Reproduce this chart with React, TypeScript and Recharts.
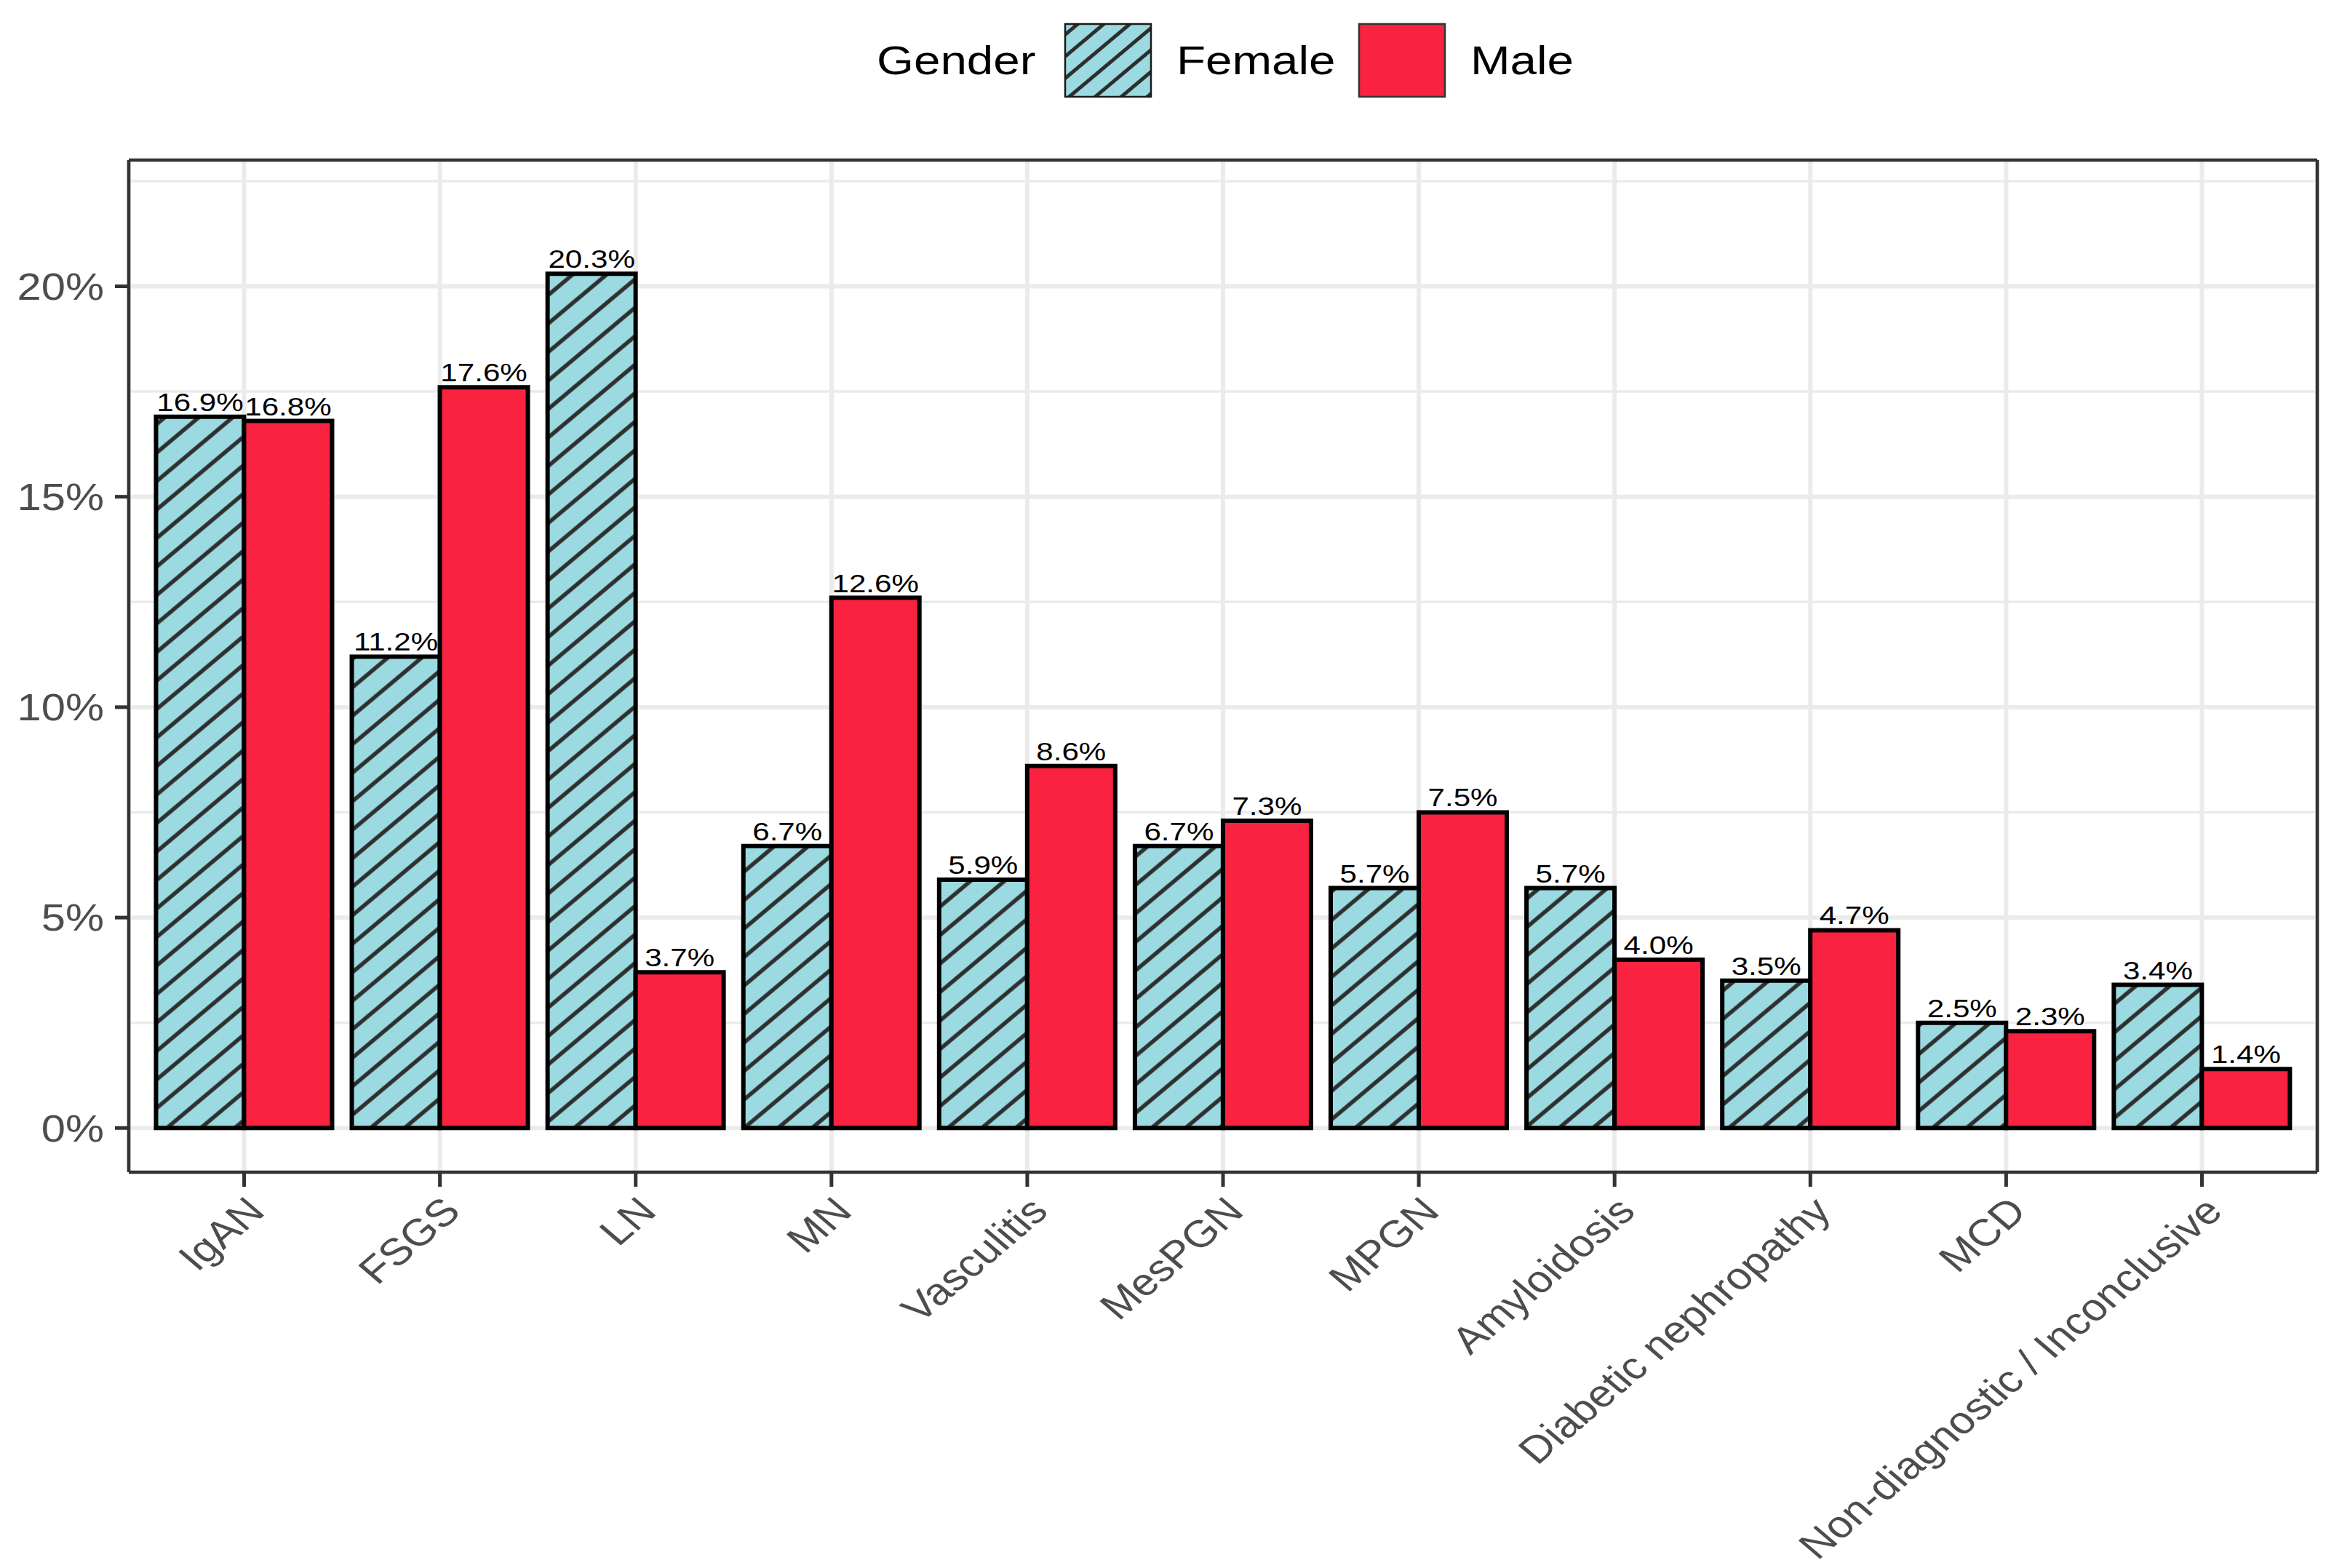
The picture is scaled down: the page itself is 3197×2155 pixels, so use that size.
import { BarChart, Bar, XAxis, YAxis, CartesianGrid, LabelList } from 'recharts';

const categories = [
  'IgAN',
  'FSGS',
  'LN',
  'MN',
  'Vasculitis',
  'MesPGN',
  'MPGN',
  'Amyloidosis',
  'Diabetic nephropathy',
  'MCD',
  'Non-diagnostic / Inconclusive',
];
const femaleShare = [16.9, 11.2, 20.3, 6.7, 5.9, 6.7, 5.7, 5.7, 3.5, 2.5, 3.4];
const maleShare = [16.8, 17.6, 3.7, 12.6, 8.6, 7.3, 7.5, 4.0, 4.7, 2.3, 1.4];
const yTicks = [0, 5, 10, 15, 20];
const yMinorTicks = [2.5, 7.5, 12.5, 17.5, 22.5];
const legendTitle = 'Gender';
const seriesNames = ['Female', 'Male'];

const data = categories.map((name, i) => ({ name, female: femaleShare[i], male: maleShare[i] }));

const FONT = '"Liberation Sans", Arial, Helvetica, sans-serif';
// the reference picture is a little wider than it is tall, text included
const STRETCH = 1.17;
const FEMALE_FILL = '#9BDAE0';
const MALE_FILL = '#F92240';
const HATCH = '#2E2E2E';
const AXIS = '#333333';
const GRID = '#EBEBEB';
const TEXT_GREY = '#4D4D4D';
const Y_DOMAIN: [number, number] = [-1.05, 23];

const fmt = (v: number) => `${v.toFixed(1)}%`;

const YTick = (props: any) => {
  const { x, y, payload } = props;
  return (
    <g transform={`translate(${x - 13},${y}) scale(${STRETCH},1)`}>
      <text x={0} y={0} dy="0.36em" textAnchor="end" fontFamily={FONT} fontSize={51} fill={TEXT_GREY}>
        {payload.value}%
      </text>
    </g>
  );
};

const XTick = (props: any) => {
  const { x, y, payload } = props;
  return (
    <g transform={`translate(${x},${y + 8}) scale(${STRETCH},1) rotate(-45)`}>
      <text x={0} y={0} dy="0.72em" textAnchor="end" fontFamily={FONT} fontSize={52} fill={TEXT_GREY}>
        {payload.value}
      </text>
    </g>
  );
};

const ValueLabel = (props: any) => {
  const { x, y, width, value } = props;
  if (value == null) return null;
  return (
    <g transform={`translate(${Number(x) + Number(width) / 2},${Number(y) - 8}) scale(${STRETCH},1)`}>
      <text x={0} y={0} textAnchor="middle" fontFamily={FONT} fontSize={36} fill="#000">
        {fmt(Number(value))}
      </text>
    </g>
  );
};

const Legend = () => (
  <svg width={3197} height={170} style={{ position: 'absolute', left: 0, top: 0 }}>
    <defs>
      <pattern id="hatchKey" patternUnits="userSpaceOnUse" width={23} height={23} patternTransform="rotate(-40)">
        <rect width={23} height={23} fill={FEMALE_FILL} />
        <rect y={9} width={23} height={5} fill={HATCH} />
      </pattern>
    </defs>
    <g transform={`translate(1205,102) scale(${STRETCH},1)`}>
      <text fontFamily={FONT} fontSize={56} fill="#000">{legendTitle}</text>
    </g>
    <rect x={1464} y={33} width={118} height={100} fill="url(#hatchKey)" stroke="#1a1a1a" strokeWidth={2.5} />
    <g transform={`translate(1617,102) scale(${STRETCH},1)`}>
      <text fontFamily={FONT} fontSize={56} fill="#000">{seriesNames[0]}</text>
    </g>
    <rect x={1868} y={33} width={118} height={100} fill={MALE_FILL} stroke="#333" strokeWidth={2.5} />
    <g transform={`translate(2021,102) scale(${STRETCH},1)`}>
      <text fontFamily={FONT} fontSize={56} fill="#000">{seriesNames[1]}</text>
    </g>
  </svg>
);

export default function App() {
  return (
    <div style={{ position: 'absolute', left: 0, top: 0, width: 3197, height: 2155, background: '#fff' }}>
      <Legend />
      <BarChart
        width={3197}
        height={2155}
        data={data}
        margin={{ top: 219, right: 11, bottom: 0, left: 0 }}
        barCategoryGap="5%"
        barGap={0}
      >
        <defs>
          <pattern id="hatchBar" patternUnits="userSpaceOnUse" width={30} height={30} patternTransform="rotate(-40)">
            <rect width={30} height={30} fill={FEMALE_FILL} />
            <rect y={12.25} width={30} height={5.5} fill={HATCH} />
          </pattern>
        </defs>
        <CartesianGrid vertical={false} horizontalValues={yMinorTicks} stroke={GRID} strokeWidth={3.5} />
        <CartesianGrid horizontalValues={yTicks} stroke={GRID} strokeWidth={6} />
        <XAxis
          dataKey="name"
          interval={0}
          height={544}
          padding={{ left: 24, right: 24 }}
          tick={<XTick />}
          tickSize={20}
          tickLine={{ stroke: AXIS, strokeWidth: 5 }}
          axisLine={{ stroke: AXIS, strokeWidth: 4.5 }}
        />
        <XAxis
          xAxisId="top"
          orientation="top"
          dataKey="name"
          height={1}
          tick={false}
          tickLine={false}
          axisLine={{ stroke: AXIS, strokeWidth: 4.5 }}
        />
        <YAxis
          domain={Y_DOMAIN}
          ticks={yTicks}
          allowDataOverflow
          width={177}
          tick={<YTick />}
          tickSize={19}
          tickLine={{ stroke: AXIS, strokeWidth: 5 }}
          axisLine={{ stroke: AXIS, strokeWidth: 4.5 }}
        />
        <YAxis
          yAxisId="right"
          orientation="right"
          domain={Y_DOMAIN}
          allowDataOverflow
          width={1}
          tick={false}
          tickLine={false}
          axisLine={{ stroke: AXIS, strokeWidth: 4.5 }}
        />
        <Bar dataKey="female" name={seriesNames[0]} fill="url(#hatchBar)" stroke="#000" strokeWidth={6} isAnimationActive={false}>
          <LabelList dataKey="female" content={<ValueLabel />} />
        </Bar>
        <Bar dataKey="male" name={seriesNames[1]} fill={MALE_FILL} stroke="#000" strokeWidth={6} isAnimationActive={false}>
          <LabelList dataKey="male" content={<ValueLabel />} />
        </Bar>
      </BarChart>
    </div>
  );
}
